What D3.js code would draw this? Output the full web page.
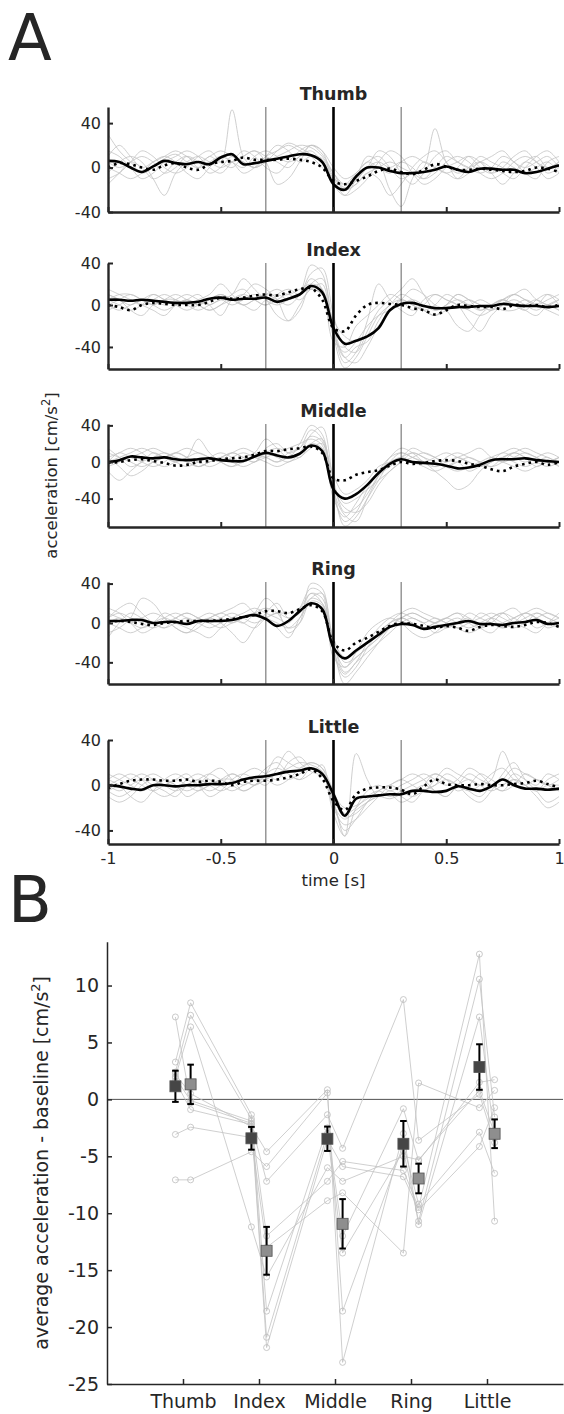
<!DOCTYPE html>
<html><head><meta charset="utf-8">
<script src="https://cdn.jsdelivr.net/npm/d3@7"></script>
<style>
body{margin:0;background:#fff}
svg{display:block}
text{font-family:"DejaVu Sans",sans-serif;fill:#262626}
</style>
</head><body>
<svg id="c" width="564" height="1414"></svg>
<script>
// ---------------- DATA: panel A ----------------
const time = [-1,-0.95,-0.9,-0.85,-0.8,-0.75,-0.7,-0.65,-0.6,-0.55,-0.5,-0.45,-0.4,-0.35,-0.3,-0.25,-0.2,-0.15,-0.1,-0.05,0,0.05,0.1,0.15,0.2,0.25,0.3,0.35,0.4,0.45,0.5,0.55,0.6,0.65,0.7,0.75,0.8,0.85,0.9,0.95,1];
const fingers = ["Thumb","Index","Middle","Ring","Little"];
const yDomainsA = [[-40,54.5],[-61,40],[-71,41.5],[-62,41.6],[-52,40]];
const yTicksA = [-40,0,40];
const yTickLabelsA = ["-40","0","40"];
const xTicksA = [-1,-0.5,0,0.5,1];
const xTickLabelsA = ["-1","-0.5","0","0.5","1"];
const markerTimes = [-0.3,0.3];

const solidThumb  = [6,5,0,-4,1,6,4,3,5,3,9,12,3,4,6,8,10,12,11,5,-15,-20,-8,0,0,-3,-5,-5,-4,-2,1,-2,-4,-1,-1,-2,-2,-5,-4,-1,2];
const dottedThumb = [0,4,3,0,-2,2,4,0,-2,3,5,6,9,7,7,7,8,7,5,0,-12,-15,-12,-8,-3,-1,-4,-6,-2,3,1,-2,-2,-1,-2,-3,-4,-3,0,-1,-4];
const grayThumb = [
 [30,15,5,-5,0,8,12,5,0,10,5,52,10,0,10,15,20,15,10,0,-10,-15,-5,5,10,0,-10,-5,0,35,5,-5,0,10,5,0,-5,5,10,0,5],
 [-5,5,10,5,-10,-25,-5,5,10,5,0,5,10,15,5,-15,-10,5,20,15,-15,-25,-10,10,5,-20,-35,-10,5,0,-5,-10,0,5,-5,-15,-5,5,0,-10,-5],
 [10,20,10,0,5,10,15,10,5,10,15,10,5,0,5,10,15,20,18,10,-5,-15,-10,0,15,10,-5,-15,-5,10,15,5,0,5,10,15,5,0,5,10,0],
 [-10,-5,5,15,10,0,-5,0,10,15,5,0,10,15,10,5,0,10,15,5,-5,-20,-15,-5,0,5,0,-5,-10,0,10,5,0,-5,0,10,5,-5,-10,5,10],
 [15,10,0,-10,-5,5,10,15,10,0,-5,5,15,10,0,-5,5,15,20,15,0,-10,-5,5,0,-5,5,10,5,0,-5,0,10,5,-5,0,10,15,5,0,5],
 [0,-5,-10,-5,5,10,5,-5,-10,0,10,5,-5,0,10,20,15,5,10,5,-10,-25,-20,-10,5,15,10,-5,-15,-10,0,5,10,0,-5,5,0,-5,0,5,-5],
 [5,0,5,10,5,-5,0,10,5,-5,0,10,5,0,5,15,22,18,12,8,-8,-20,-15,-5,-10,-25,-15,0,10,15,5,-10,-5,5,0,-5,-10,0,10,15,5],
 [-15,-5,5,0,-10,-5,5,10,0,5,10,5,0,10,15,10,5,10,20,12,-5,-18,-12,0,5,0,5,0,-10,-5,5,10,5,-5,-10,-5,5,10,5,-5,0]
];

const solidIndex  = [5,5,4,5,4,3,2,2,3,6,7,5,6,6,7,3,6,10,18,12,-22,-37,-34,-30,-22,-5,1,2,-1,-3,-3,-2,-2,-1,-1,1,0,-1,-1,-2,-1];
const dottedIndex = [0,-2,-5,0,2,1,0,0,0,3,7,6,7,9,10,9,12,15,16,5,-22,-25,-10,0,2,1,0,-3,-5,-9,-5,0,-1,-2,-2,-4,0,-1,0,-2,0];
const grayIndex = [
 [15,10,5,0,5,10,5,0,5,10,20,10,0,5,10,5,0,10,38,30,-30,-60,-50,-30,-10,0,10,5,-5,-10,0,10,5,0,-5,5,10,5,0,10,5],
 [10,5,-5,-10,0,5,10,5,0,-5,0,5,10,20,15,5,-15,-5,20,25,-20,-50,-55,-40,-20,-5,5,15,10,0,-5,-20,-25,-10,0,5,0,-5,-10,0,5],
 [5,10,10,5,0,5,5,0,-5,0,5,10,25,15,5,0,5,10,30,35,-10,-40,-45,-25,-5,5,15,25,10,-5,0,10,5,-5,0,5,10,15,5,0,-5],
 [0,-5,0,5,10,5,0,-5,0,5,10,5,0,5,10,15,10,15,20,15,-25,-55,-45,-15,20,5,-5,-10,5,10,5,0,-5,-10,-5,5,0,-5,5,10,0],
 [-5,0,5,0,-5,-10,0,5,0,-5,0,10,15,5,0,5,10,5,15,20,-30,-45,-35,-20,-10,-5,0,5,0,-5,0,5,0,-5,0,5,0,5,0,-5,-10],
 [10,5,0,5,5,0,5,10,5,0,5,0,5,10,5,-10,-15,0,15,10,-25,-50,-40,-35,-15,0,5,0,-5,0,10,5,0,5,0,-5,-5,0,5,0,5],
 [5,0,-5,0,10,5,0,5,10,0,-10,5,10,5,0,10,15,10,25,15,-35,-40,-20,-10,0,10,5,-5,0,10,5,0,-15,-25,-10,0,10,5,0,5,10],
 [0,5,10,5,0,-5,0,5,0,5,10,5,0,-5,5,10,5,10,15,10,-15,-30,-35,-30,-20,-5,5,0,-5,-10,-5,0,5,0,-5,0,5,0,-5,0,-5]
];

const solidMiddle  = [0,2,6,5,4,5,3,2,3,4,2,1,1,6,10,7,5,9,18,12,-30,-40,-35,-25,-12,-2,3,0,-1,-2,-4,-7,-6,-3,2,3,3,4,2,1,0];
const dottedMiddle = [-1,0,2,3,1,-1,-4,-3,0,1,3,4,5,8,12,12,14,15,17,10,-18,-20,-14,-11,-9,-4,0,-2,-1,1,2,1,-2,-4,-8,-10,-5,-2,0,-3,0];
const grayMiddle = [
 [15,5,-5,0,10,5,0,5,25,10,0,-5,5,10,25,15,5,20,40,30,-35,-65,-55,-30,-10,5,10,5,0,5,10,5,0,-5,5,10,15,10,5,0,5],
 [-10,-20,-10,0,5,10,5,0,-5,0,5,10,5,0,15,20,10,15,35,25,-30,-70,-60,-40,-20,0,10,5,0,-10,-20,-30,-25,-10,0,5,10,15,10,5,0],
 [5,10,15,10,0,-5,0,5,10,5,0,-5,0,5,10,5,0,10,30,38,-20,-55,-50,-35,-15,-5,5,15,10,5,0,5,10,15,5,0,5,10,5,0,5],
 [0,5,10,15,10,5,0,-5,0,5,10,5,0,5,5,0,5,10,20,15,-25,-45,-40,-30,-20,-10,0,10,5,0,-5,0,5,0,-5,0,10,5,0,-5,0],
 [10,5,0,-5,0,5,10,15,10,5,0,5,10,5,0,-5,0,5,15,20,-15,-35,-30,-20,-5,0,5,0,-5,-10,-5,0,-10,-5,0,5,0,-5,0,5,-5],
 [-5,0,5,10,15,10,5,0,-5,0,5,0,-5,0,5,10,15,20,25,18,-40,-60,-45,-25,-10,0,5,10,5,-5,0,5,0,-5,0,10,5,0,5,10,5],
 [5,-5,-15,-10,0,5,10,5,0,-5,0,10,5,0,10,15,10,5,20,25,-28,-50,-55,-45,-25,-10,0,5,10,5,-5,-10,-5,0,5,0,-5,-10,-5,0,5],
 [0,10,5,0,-5,0,10,5,-5,0,5,10,15,10,5,0,10,15,28,22,-32,-58,-65,-40,-15,5,15,10,0,-5,5,10,5,0,-5,5,10,5,-5,0,-5]
];

const solidRing  = [2,2,3,3,0,1,1,-1,2,2,2,3,6,8,4,-3,2,12,20,14,-25,-36,-28,-20,-12,-4,-1,-2,-6,-4,-2,0,2,-1,-1,-2,0,1,3,-1,0];
const dottedRing = [1,2,1,-1,-2,0,1,2,2,2,3,4,6,8,12,12,10,14,18,12,-20,-28,-20,-15,-9,-3,0,-1,-3,-5,-3,-5,-8,-4,-2,-3,-4,-2,1,0,-4];
const grayRing = [
 [15,10,0,-10,-5,5,10,5,0,5,10,5,0,10,25,15,-10,0,40,35,-30,-55,-45,-25,-10,0,5,10,5,0,5,10,0,-5,5,10,5,0,10,5,0],
 [-10,-5,5,25,20,5,-5,-10,0,5,0,-10,-20,-5,10,20,5,10,30,25,-25,-62,-50,-35,-20,-5,5,0,-5,0,5,10,5,-5,0,10,15,5,-5,0,5],
 [5,10,5,0,-5,0,5,10,5,0,-5,0,5,10,5,-5,-15,5,25,30,-20,-50,-40,-20,-5,5,10,5,0,-10,-5,0,5,-5,-10,0,5,10,5,0,-5],
 [0,-5,-10,-5,0,5,0,-5,-10,-15,-5,5,10,15,10,5,0,15,35,30,-35,-45,-30,-10,0,5,0,-10,-15,-10,0,5,0,10,5,-5,0,10,5,-5,0],
 [-15,0,10,5,0,-5,0,5,0,-5,0,5,0,-5,5,10,5,10,25,20,-15,-40,-35,-25,-15,-5,5,10,5,0,-5,0,10,5,0,-5,5,10,15,10,5],
 [10,5,0,5,10,5,-5,-10,-5,5,10,15,20,10,5,0,-5,5,20,15,-28,-52,-40,-30,-20,-10,0,5,0,5,0,-5,-10,-5,5,10,0,-5,-10,0,10],
 [5,15,20,10,0,-5,5,10,5,0,5,10,5,0,5,10,10,15,30,20,-22,-45,-35,-25,-15,0,10,15,10,5,0,-5,0,5,10,5,0,5,10,5,0],
 [0,5,0,-5,0,10,5,0,5,10,5,0,5,10,15,10,-5,0,22,18,-18,-35,-30,-20,-10,0,5,0,-5,0,5,0,-5,0,5,0,-5,0,5,10,5]
];

const solidLittle  = [0,-1,-3,-4,0,0,-1,0,0,1,1,2,5,7,8,10,12,13,15,10,-8,-27,-12,-10,-9,-8,-8,-5,-5,-6,-5,-1,-3,-5,-1,5,0,-3,-3,-4,-3];
const dottedLittle = [-3,1,4,5,5,4,4,5,3,4,3,0,3,4,4,5,7,10,14,6,-14,-22,-8,-3,-2,-2,-4,-8,-1,5,1,0,0,1,0,0,1,2,4,1,-2];
const grayLittle = [
 [5,0,-10,-15,-5,5,10,5,0,-5,0,10,5,0,10,25,20,15,20,15,-15,-40,-30,-15,-5,0,5,0,-5,5,15,10,5,0,5,30,10,0,-5,0,0],
 [-5,-10,-5,5,10,5,0,-5,0,10,15,5,-5,0,10,15,10,5,15,10,-15,-45,28,5,-10,-5,-10,-15,-5,0,5,0,-10,-15,-5,10,20,5,-5,-15,-10],
 [0,5,10,5,-5,-10,-5,5,10,5,0,-5,0,5,15,20,10,5,10,18,-20,-35,-30,-20,-10,0,5,10,5,-5,-10,0,10,5,0,-5,0,10,5,0,5],
 [10,5,0,-5,0,5,0,-10,-5,0,5,10,5,0,5,10,15,20,18,12,-25,-45,-20,-5,0,-5,0,5,10,5,0,5,15,10,0,-5,5,0,-10,-20,-15],
 [-10,-15,-10,0,5,0,-5,0,5,0,-5,0,10,15,10,5,20,25,15,10,-18,-30,-22,-15,-10,-8,-15,-10,0,10,5,-5,0,10,5,0,10,5,0,10,5],
 [5,10,5,0,-5,0,5,10,0,-10,-5,5,10,5,0,15,30,20,12,8,-8,-20,-18,-12,-5,0,-5,-10,-5,0,10,5,-5,-10,0,5,15,10,5,0,-5],
 [0,-5,0,5,0,-5,-10,0,5,10,5,0,-5,0,5,10,5,10,15,12,-12,-28,-25,-15,-10,-12,-8,-5,0,-5,-10,0,5,0,-5,0,5,0,-5,5,10],
 [-5,0,5,10,5,0,5,0,-5,0,5,5,0,5,5,0,5,15,20,15,-5,-25,-20,-10,-5,-10,-5,0,5,10,5,0,-5,0,10,15,5,0,5,0,-5]
];

const solidA = [solidThumb, solidIndex, solidMiddle, solidRing, solidLittle];
const dottedA = [dottedThumb, dottedIndex, dottedMiddle, dottedRing, dottedLittle];
const grayA = [grayThumb, grayIndex, grayMiddle, grayRing, grayLittle];

// ---------------- DATA: panel B ----------------
const categoriesB = ["Thumb","Index","Middle","Ring","Little"];
const meanDark  = [1.15, -3.42, -3.46, -3.9, 2.84];
const errDark   = [1.37, 1.0, 1.07, 2.0, 2.0];
const meanLight = [1.32, -13.3, -10.93, -6.95, -3.02];
const errLight  = [1.73, 2.1, 2.17, 1.3, 1.26];
const yTicksB = [-25,-20,-15,-10,-5,0,5,10];
const yTickLabelsB = ["-25","-20","-15","-10","-5","0","5","10"];
// each subject: Thumb dark, Thumb light, Index dark, Index light, ..., Little light
const subjectsB = [
 [3.28, 8.48, -1.35, -18.6, -2.5, -12.0, -0.82, -5.4, 1.5, 1.73],
 [7.24, -0.3, -2.1, -12.0, -7.2, -5.45, -6.25, -9.5, 12.76, -10.7],
 [2.4, 7.39, -1.7, -20.9, -3.0, -13.5, -4.5, -10.7, 10.56, -1.55],
 [2.2, 0.5, -2.4, -4.6, 0.85, -23.1, -3.0, -11.0, 7.24, -3.4],
 [-3.08, -2.44, -3.35, -13.0, -8.9, -8.2, -13.5, 1.44, -0.73, 0.79],
 [-7.07, -7.07, -4.6, -5.9, 0.56, -18.6, -4.0, -9.2, -2.88, -6.5],
 [2.0, 6.37, -11.2, -15.6, -6.0, -7.2, -5.0, -5.3, 0.8, -3.0],
 [1.9, -0.1, -1.9, -21.8, -3.5, -5.9, -6.8, -9.7, -4.14, -0.73],
 [1.6, -0.9, -2.2, -7.2, -1.35, -4.3, 8.77, -3.6, 0.45, -3.8]
];

// ---------------- DRAWING ----------------
const svg = d3.select("#c");
const AX = "#262626";
const FONT = '"DejaVu Sans", sans-serif';

svg.append("text").attr("x",8).attr("y",60).attr("font-size",64).attr("fill","#000").text("A");
svg.append("text").attr("x",8).attr("y",922).attr("font-size",64).attr("fill","#000").text("B");

const xA = d3.scaleLinear().domain([-1,1]).range([108,559]);
const topsA = [107,263,424,582,740];
const botsA = [212,369,527,684,844];

fingers.forEach((name,k)=>{
  const y = d3.scaleLinear().domain(yDomainsA[k]).range([botsA[k],topsA[k]]);
  const g = svg.append("g");
  const cid = "clipA"+k;
  svg.append("clipPath").attr("id",cid).append("rect")
    .attr("x",xA.range()[0]).attr("y",topsA[k]).attr("width",xA.range()[1]-xA.range()[0]).attr("height",botsA[k]-topsA[k]);
  const plot = g.append("g").attr("clip-path",`url(#${cid})`);
  const line = d3.line().x((d,i)=>xA(time[i])).y(d=>y(d)).curve(d3.curveCatmullRom.alpha(0.5));
  grayA[k].forEach(s=>{
    plot.append("path").attr("d",line(s)).attr("fill","none").attr("stroke","#c3c3c3").attr("stroke-width",0.8);
  });
  markerTimes.forEach(v=>{
    plot.append("line").attr("x1",xA(v)).attr("x2",xA(v)).attr("y1",topsA[k]).attr("y2",botsA[k])
      .attr("stroke","#3a3a3a").attr("stroke-width",0.8);
  });
  plot.append("line").attr("x1",xA(0)).attr("x2",xA(0)).attr("y1",topsA[k]).attr("y2",botsA[k])
    .attr("stroke","#000").attr("stroke-width",2.6);
  plot.append("path").attr("d",line(dottedA[k])).attr("fill","none").attr("stroke","#000")
    .attr("stroke-width",2.6).attr("stroke-dasharray","2.6,4");
  plot.append("path").attr("d",line(solidA[k])).attr("fill","none").attr("stroke","#000")
    .attr("stroke-width",2.6).attr("stroke-linejoin","round");

  // y axis
  const yAxis = d3.axisLeft(y).tickValues(yTicksA).tickFormat((d,i)=>yTickLabelsA[i])
    .tickSizeInner(-5).tickSizeOuter(0).tickPadding(7);
  const gy = g.append("g").attr("transform",`translate(${xA.range()[0]},0)`).call(yAxis);
  gy.select(".domain").attr("stroke",AX).attr("stroke-width",2.4);
  gy.selectAll(".tick line").attr("stroke",AX).attr("stroke-width",2);
  gy.selectAll(".tick text").attr("font-size",16).attr("font-family",FONT).attr("fill",AX);
  // x axis
  const last = k===fingers.length-1;
  const xAxis = d3.axisBottom(xA).tickValues(xTicksA).tickFormat((d,i)=> last ? xTickLabelsA[i] : "")
    .tickSizeInner(-5).tickSizeOuter(0).tickPadding(9);
  const gx = g.append("g").attr("transform",`translate(0,${botsA[k]})`).call(xAxis);
  gx.select(".domain").attr("stroke",AX).attr("stroke-width",2.4);
  gx.selectAll(".tick line").attr("stroke",AX).attr("stroke-width",2);
  gx.selectAll(".tick text").attr("font-size",16).attr("font-family",FONT).attr("fill",AX);

  g.append("text").attr("x",xA(0)).attr("y",topsA[k]-7).attr("text-anchor","middle")
    .attr("font-size",17.5).attr("font-weight","bold").attr("fill","#000").text(name);
});

svg.append("text").attr("x",xA(0)).attr("y",886).attr("text-anchor","middle").attr("font-size",16.5).text("time [s]");
{
  const t = svg.append("text").attr("transform",`translate(57,${(topsA[0]+botsA[4])/2}) rotate(-90)`)
    .attr("text-anchor","middle").attr("font-size",16.5);
  t.append("tspan").text("acceleration [cm/s");
  t.append("tspan").attr("dy",-7).attr("font-size",11.5).text("2");
  t.append("tspan").attr("dy",7).text("]");
}

// ---------------- Panel B ----------------
const xB = d3.scaleLinear().domain([0,6]).range([107,563]);
const yB = d3.scaleLinear().domain([-25,13.85]).range([1384,941.7]);
const off = 0.1;
const posB = [];
categoriesB.forEach((c,i)=>{ posB.push(i+1-off); posB.push(i+1+off); });

const gB = svg.append("g");
gB.append("line").attr("x1",xB(0)).attr("x2",xB(6)).attr("y1",yB(0)).attr("y2",yB(0))
  .attr("stroke","#505050").attr("stroke-width",1);
const lineB = d3.line().x((d,i)=>xB(posB[i])).y(d=>yB(d));
subjectsB.forEach(s=>{
  gB.append("path").attr("d",lineB(s)).attr("fill","none").attr("stroke","#c3c3c3").attr("stroke-width",0.8);
});
subjectsB.forEach(s=>{
  gB.selectAll(null).data(s).enter().append("circle")
    .attr("cx",(d,i)=>xB(posB[i])).attr("cy",d=>yB(d)).attr("r",3)
    .attr("fill","none").attr("stroke","#bdbdbd").attr("stroke-width",0.8);
});
function drawMeans(means, errs, offset, fill){
  const cap = 3.3;
  means.forEach((m,i)=>{
    const cx = xB(i+1+offset);
    const e = errs[i];
    gB.append("line").attr("x1",cx).attr("x2",cx).attr("y1",yB(m+e)).attr("y2",yB(m-e)).attr("stroke","#000").attr("stroke-width",2);
    gB.append("line").attr("x1",cx-cap).attr("x2",cx+cap).attr("y1",yB(m+e)).attr("y2",yB(m+e)).attr("stroke","#000").attr("stroke-width",2);
    gB.append("line").attr("x1",cx-cap).attr("x2",cx+cap).attr("y1",yB(m-e)).attr("y2",yB(m-e)).attr("stroke","#000").attr("stroke-width",2);
    gB.append("rect").attr("x",cx-5.5).attr("y",yB(m)-5.5).attr("width",11).attr("height",11)
      .attr("fill",fill).attr("stroke","#555").attr("stroke-width",0.8);
  });
}
drawMeans(meanDark, errDark, -off, "#464646");
drawMeans(meanLight, errLight, off, "#8e8e8e");

const yAxB = d3.axisLeft(yB).tickValues(yTicksB).tickFormat((d,i)=>yTickLabelsB[i]).tickSizeInner(-5).tickSizeOuter(0).tickPadding(8);
const gyB = gB.append("g").attr("transform",`translate(${xB(0)},0)`).call(yAxB);
gyB.select(".domain").attr("stroke",AX).attr("stroke-width",1.5);
gyB.selectAll(".tick line").attr("stroke",AX).attr("stroke-width",1.5);
gyB.selectAll(".tick text").attr("font-size",19).attr("font-family",FONT).attr("fill",AX);
const xAxB = d3.axisBottom(xB).tickValues([1,2,3,4,5]).tickFormat((d,i)=>categoriesB[i]).tickSizeInner(-5).tickSizeOuter(0).tickPadding(11);
const gxB = gB.append("g").attr("transform",`translate(0,${yB(-25)})`).call(xAxB);
gxB.select(".domain").attr("stroke",AX).attr("stroke-width",1.5);
gxB.selectAll(".tick line").attr("stroke",AX).attr("stroke-width",1.5);
gxB.selectAll(".tick text").attr("font-size",19).attr("font-family",FONT).attr("fill",AX);
{
  const t = svg.append("text").attr("transform",`translate(48,${(yB.range()[0]+yB.range()[1])/2}) rotate(-90)`)
    .attr("text-anchor","middle").attr("font-size",19);
  t.append("tspan").text("average acceleration - baseline [cm/s");
  t.append("tspan").attr("dy",-8).attr("font-size",13).text("2");
  t.append("tspan").attr("dy",8).text("]");
}
</script>
</body></html>
